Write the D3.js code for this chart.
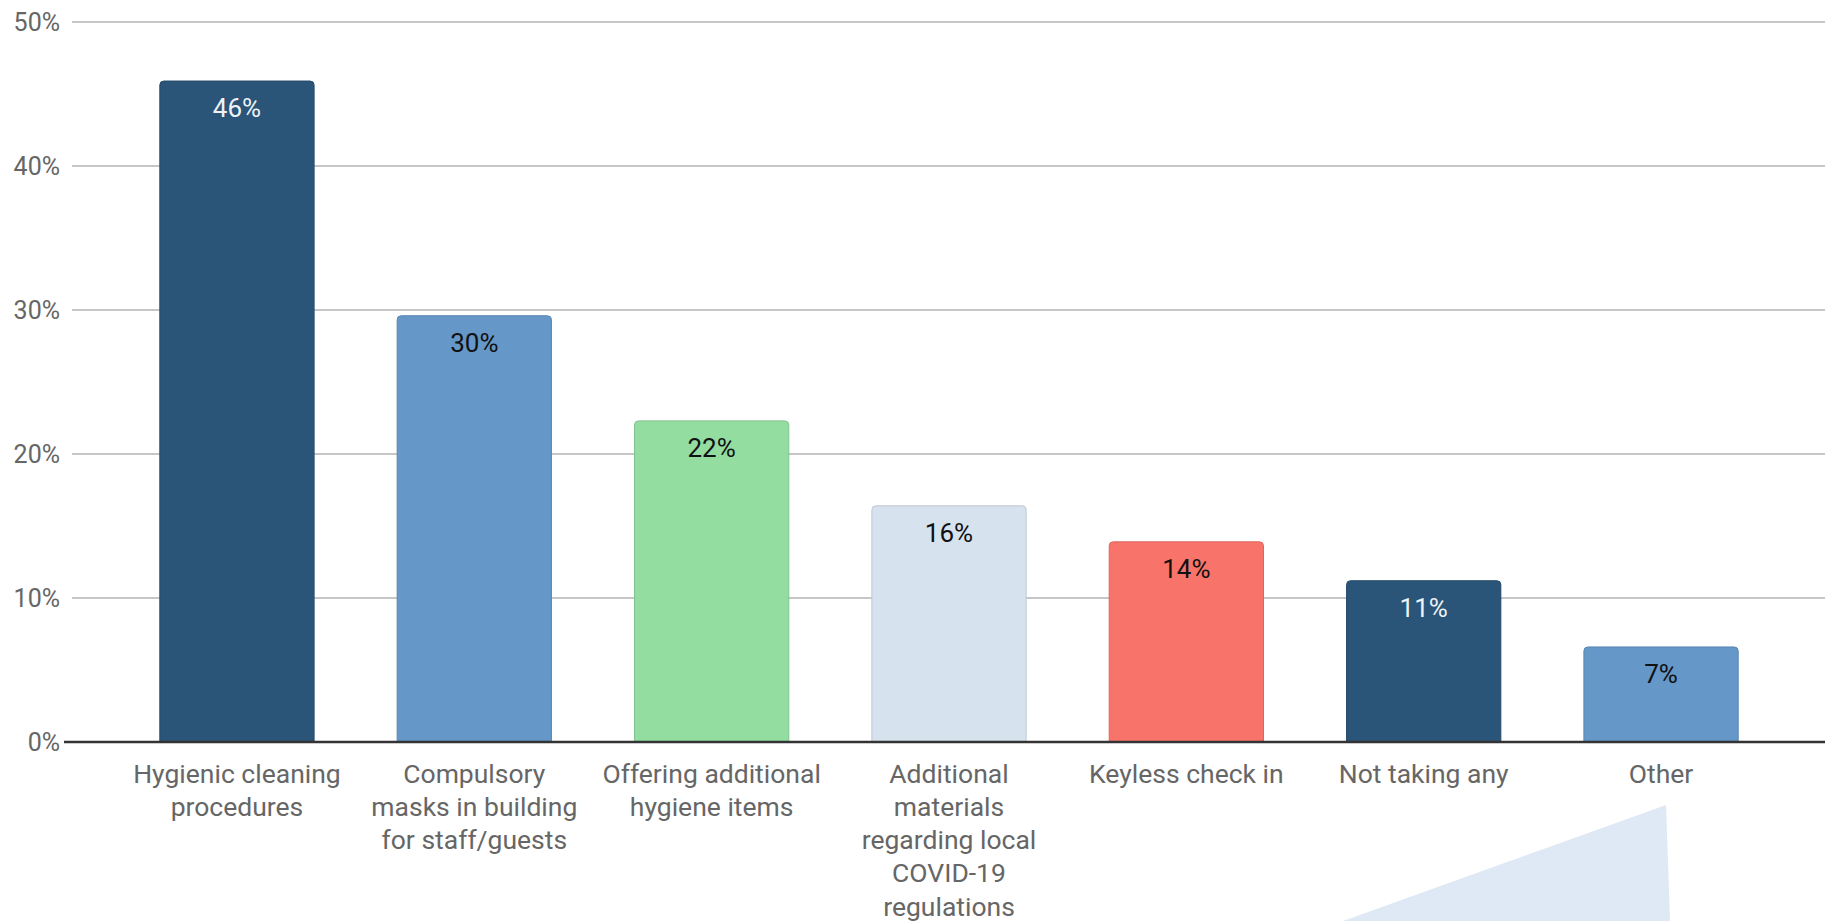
<!DOCTYPE html>
<html lang="en">
<head>
<meta charset="utf-8">
<title>Hotel measures</title>
<style>
  * { margin: 0; padding: 0; box-sizing: border-box; }
  body { background: #fff; overflow: hidden; font-family: Roboto, "Noto Sans", sans-serif; }
  svg { display: block; }
  .grid line { stroke: #c6c6c6; stroke-width: 2; }
  .y-label { font-size: 25px; fill: #666; }
  .x-label { font-size: 26.5px; fill: #666; }
  .bar-label { font-size: 26px; }
</style>
</head>
<body>
<svg id="chart" width="1825" height="921"></svg>
<script src="https://d3js.org/d3.v7.min.js"></script>
<script>
const categories = [
  "Hygienic cleaning procedures",
  "Compulsory masks in building for staff/guests",
  "Offering additional hygiene items",
  "Additional materials regarding local COVID-19 regulations",
  "Keyless check in",
  "Not taking any",
  "Other"
];
// wrapped lines as they appear under each bar
const categoryLines = [
  ["Hygienic cleaning", "procedures"],
  ["Compulsory", "masks in building", "for staff/guests"],
  ["Offering additional", "hygiene items"],
  ["Additional", "materials", "regarding local", "COVID-19", "regulations"],
  ["Keyless check in"],
  ["Not taking any"],
  ["Other"]
];
const values = [45.9, 29.6, 22.3, 16.4, 13.9, 11.2, 6.6];
const valueLabels = ["46%", "30%", "22%", "16%", "14%", "11%", "7%"];
const barColors = ["#2a5478", "#6597c8", "#93dda0", "#d7e2ef", "#f8746a", "#2a5478", "#6597c8"];
const labelColors = ["#eef2f6", "#111", "#111", "#111", "#111", "#eef2f6", "#111"];
const yTicks = [0, 10, 20, 30, 40, 50];

const width = 1825, height = 921;
const plot = { left: 72, right: 1826, top: 22, bottom: 742 };

const svg = d3.select("#chart");

const x = d3.scaleBand()
  .domain(categories)
  .range([plot.left, plot.right])
  .paddingInner(0.35)
  .paddingOuter(0.37);

const y = d3.scaleLinear().domain([0, 50]).range([plot.bottom, plot.top]);

// decorative pale wedge under "Other"
const ox = x("Other") + x.bandwidth() / 2;
svg.append("path")
  .attr("fill", "#dfe9f5")
  .attr("d", `M${ox + 5},${plot.bottom + 63}L${ox + 9},${height}L${ox - 318},${height}Z`);

// gridlines
svg.append("g").attr("class", "grid")
  .selectAll("line")
  .data(yTicks.filter(d => d > 0))
  .join("line")
    .attr("x1", plot.left).attr("x2", width)
    .attr("y1", d => y(d)).attr("y2", d => y(d));

// y tick labels
svg.append("g").selectAll("text")
  .data(yTicks)
  .join("text")
    .attr("class", "y-label")
    .attr("x", 60)
    .attr("y", d => y(d))
    .attr("dy", "0.36em")
    .attr("text-anchor", "end")
    .text(d => d + "%");

// bars with rounded top corners
const r = 4;
const barPath = (d, i) => {
  const x0 = x(categories[i]), x1 = x0 + x.bandwidth();
  const top = y(d), base = y(0);
  return `M${x0},${base}V${top + r}Q${x0},${top} ${x0 + r},${top}H${x1 - r}Q${x1},${top} ${x1},${top + r}V${base}Z`;
};

svg.append("g").selectAll("path")
  .data(values)
  .join("path")
    .attr("d", barPath)
    .attr("fill", (d, i) => barColors[i])
    .attr("stroke", (d, i) => d3.color(barColors[i]).darker(0.35))
    .attr("stroke-width", 1);

// value labels inside bars
svg.append("g").selectAll("text")
  .data(values)
  .join("text")
    .attr("class", "bar-label")
    .attr("x", (d, i) => x(categories[i]) + x.bandwidth() / 2)
    .attr("y", d => y(d) + 27)
    .attr("dy", "0.36em")
    .attr("text-anchor", "middle")
    .attr("fill", (d, i) => labelColors[i])
    .text((d, i) => valueLabels[i]);

// baseline
svg.append("line")
  .attr("x1", 64).attr("x2", width)
  .attr("y1", y(0)).attr("y2", y(0))
  .attr("stroke", "#333").attr("stroke-width", 2.5);

// category labels
const lineH = 33.3;
svg.append("g").selectAll("text")
  .data(categoryLines)
  .join("text")
    .attr("class", "x-label")
    .attr("text-anchor", "middle")
    .attr("transform", (d, i) => `translate(${x(categories[i]) + x.bandwidth() / 2},${y(0) + 31})`)
  .selectAll("tspan")
  .data(d => d)
  .join("tspan")
    .attr("x", 0)
    .attr("y", (d, j) => j * lineH)
    .attr("dy", "0.36em")
    .text(d => d);
</script>
</body>
</html>
